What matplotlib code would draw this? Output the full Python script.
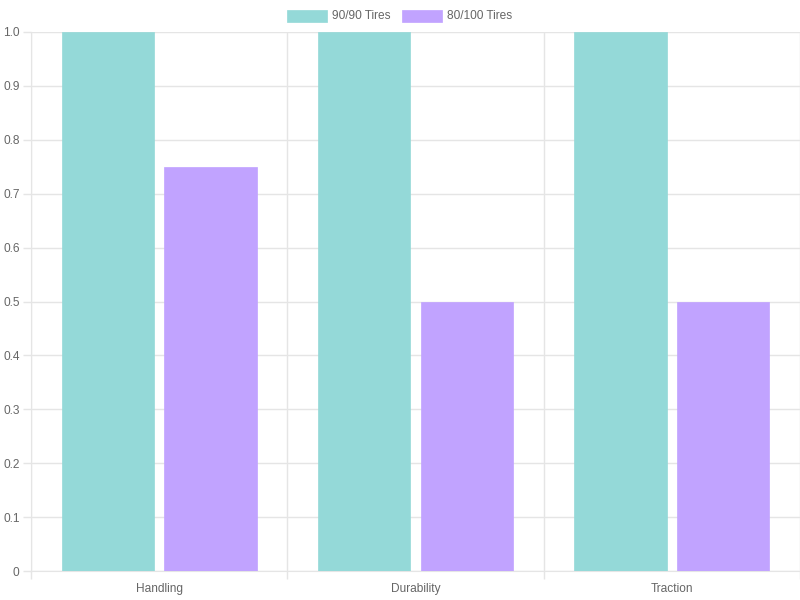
import matplotlib
matplotlib.use("Agg")
import matplotlib.pyplot as plt
import numpy as np
from matplotlib.patches import Rectangle

categories = ["Handling", "Durability", "Traction"]
series_names = ["90/90 Tires", "80/100 Tires"]
tires_90_90 = [1.0, 1.0, 1.0]
tires_80_100 = [0.75, 0.5, 0.5]
y_ticks = [0, 0.1, 0.2, 0.3, 0.4, 0.5, 0.6, 0.7, 0.8, 0.9, 1.0]
y_tick_labels = ["0", "0.1", "0.2", "0.3", "0.4", "0.5", "0.6", "0.7", "0.8", "0.9", "1.0"]

fill_colors = ["#94d9d8", "#c1a3ff"]
grid_color = "#e5e5e5"
text_color = "#666666"

plt.rcParams["font.family"] = ["Liberation Sans", "DejaVu Sans"]

fig = plt.figure(figsize=(8, 6), dpi=100)
ax = fig.add_axes([31 / 800, 1 - 571 / 600, 769 / 800, 539 / 600])

n = len(categories)
x = np.arange(n)
slot = 0.8 / 2
bar_w = slot * 0.9
for i, vals in enumerate([tires_90_90, tires_80_100]):
    offs = -0.4 + slot * (i + 0.5)
    ax.bar(x + offs, vals, width=bar_w, color=fill_colors[i],
           edgecolor=fill_colors[i], linewidth=0.5, zorder=3)

ax.set_xlim(-0.5, n - 0.5)
ax.set_ylim(0, 1.0)

# grid lines sit between categories, labels in the middle
ax.set_xticks(np.arange(n + 1) - 0.5, minor=False)
ax.set_xticklabels([])
ax.set_xticks(x, minor=True)
ax.set_xticklabels(categories, minor=True)
ax.tick_params(axis="x", which="major", length=5.8, color=grid_color, width=1)
ax.tick_params(axis="x", which="minor", length=0, pad=8.4, labelsize=8.6,
               labelcolor=text_color)
ax.set_yticks(y_ticks)
ax.set_yticklabels(y_tick_labels)
ax.tick_params(axis="y", length=5.8, color=grid_color, width=1, pad=2.4,
               labelsize=8.6, labelcolor=text_color)
ax.grid(True, which="major", color=grid_color, linewidth=1, zorder=0)
for s in ax.spines.values():
    s.set_visible(False)
ax.spines["left"].set_visible(True)
ax.spines["left"].set_color(grid_color)
ax.spines["bottom"].set_visible(True)
ax.spines["bottom"].set_color(grid_color)

# legend drawn Chart.js-style at the top
legend_items = [(287, series_names[0]), (402, series_names[1])]
for (px, label), fc in zip(legend_items, fill_colors):
    fig.patches.append(Rectangle((px / 800, 1 - 22 / 600), 40 / 800, 12 / 600,
                                 transform=fig.transFigure, facecolor=fc,
                                 edgecolor=fc, linewidth=0.5))
    fig.text((px + 45) / 800, 1 - 16 / 600, label, fontsize=8.6,
             color=text_color, va="center", ha="left")

fig.savefig("out.png", dpi=100)
